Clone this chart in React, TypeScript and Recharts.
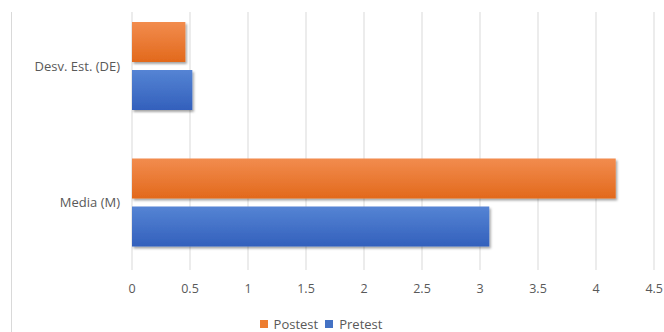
import React from "react";
import { BarChart, Bar, XAxis, YAxis, CartesianGrid, Legend } from "recharts";

const categories = ["Desv. Est. (DE)", "Media (M)"];
const postest = [0.46, 4.17];
const pretest = [0.52, 3.08];
const xTicks = [0, 0.5, 1, 1.5, 2, 2.5, 3, 3.5, 4, 4.5];

const data = categories.map((c, i) => ({ name: c, Postest: postest[i], Pretest: pretest[i] }));

const FONT = "'Open Sans', 'Noto Sans', sans-serif";
const TXT = "#595959";

const renderLegend = () => (
  <div style={{ display: "flex", justifyContent: "center", alignItems: "center", fontFamily: FONT, fontSize: 13, color: TXT, paddingRight: 12 }}>
    <span style={{ display: "inline-block", width: 8, height: 8, background: "#ED7D31", marginRight: 6 }} />
    <span style={{ marginRight: 7 }}>Postest</span>
    <span style={{ display: "inline-block", width: 8, height: 8, background: "#4472C4", marginRight: 6 }} />
    <span>Pretest</span>
  </div>
);

const XTick = (props: any) => {
  const { x, y, payload } = props;
  const last = payload && payload.value === xTicks[xTicks.length - 1];
  return (
    <text
      x={last ? x + 9 : x}
      y={y}
      dy="0.71em"
      textAnchor={last ? "end" : "middle"}
      fill={TXT}
      fontSize={12.5}
      fontFamily={FONT}
    >
      {payload.value}
    </text>
  );
};

export default function App() {
  return (
    <div style={{ position: "absolute", left: 0, top: 0, width: 664, height: 332, overflow: "hidden", background: "#fff" }}>
      <div style={{ position: "absolute", left: 11, top: 12, width: 1, height: 320, background: "#d9d9d9" }} />
      <BarChart
        width={664}
        height={332}
        data={data}
        layout="vertical"
        margin={{ top: 12, right: 10, left: 0, bottom: 0 }}
        barCategoryGap={24}
        barGap={8}
      >
        <defs>
          <linearGradient id="gOrange" x1="0" y1="0" x2="0" y2="1">
            <stop offset="0%" stopColor="#F28C4E" />
            <stop offset="100%" stopColor="#E2691C" />
          </linearGradient>
          <linearGradient id="gBlue" x1="0" y1="0" x2="0" y2="1">
            <stop offset="0%" stopColor="#5584D4" />
            <stop offset="100%" stopColor="#3360BC" />
          </linearGradient>
          <filter id="shadow" x="-10%" y="-20%" width="130%" height="160%">
            <feDropShadow dx="1.5" dy="2" stdDeviation="1.2" floodColor="#000" floodOpacity="0.35" />
          </filter>
        </defs>
        <CartesianGrid horizontal={false} vertical={true} stroke="#d9d9d9" />
        <XAxis
          type="number"
          domain={[0, 4.5]}
          ticks={xTicks}
          axisLine={false}
          tickLine={false}
          height={40}
          tickMargin={8}
          tick={XTick}
          interval={0}
        />
        <YAxis
          type="category"
          dataKey="name"
          width={132}
          axisLine={false}
          tickLine={false}
          tickSize={6}
          tickMargin={6}
          padding={{ top: -14, bottom: -1 }}
          tick={{ fill: TXT, fontSize: 13, fontFamily: FONT }}
        />
        <Legend verticalAlign="bottom" height={22} content={renderLegend} wrapperStyle={{ top: 315 }} />
        <Bar dataKey="Postest" fill="url(#gOrange)" filter="url(#shadow)" isAnimationActive={false} />
        <Bar dataKey="Pretest" fill="url(#gBlue)" filter="url(#shadow)" isAnimationActive={false} />
      </BarChart>
    </div>
  );
}
